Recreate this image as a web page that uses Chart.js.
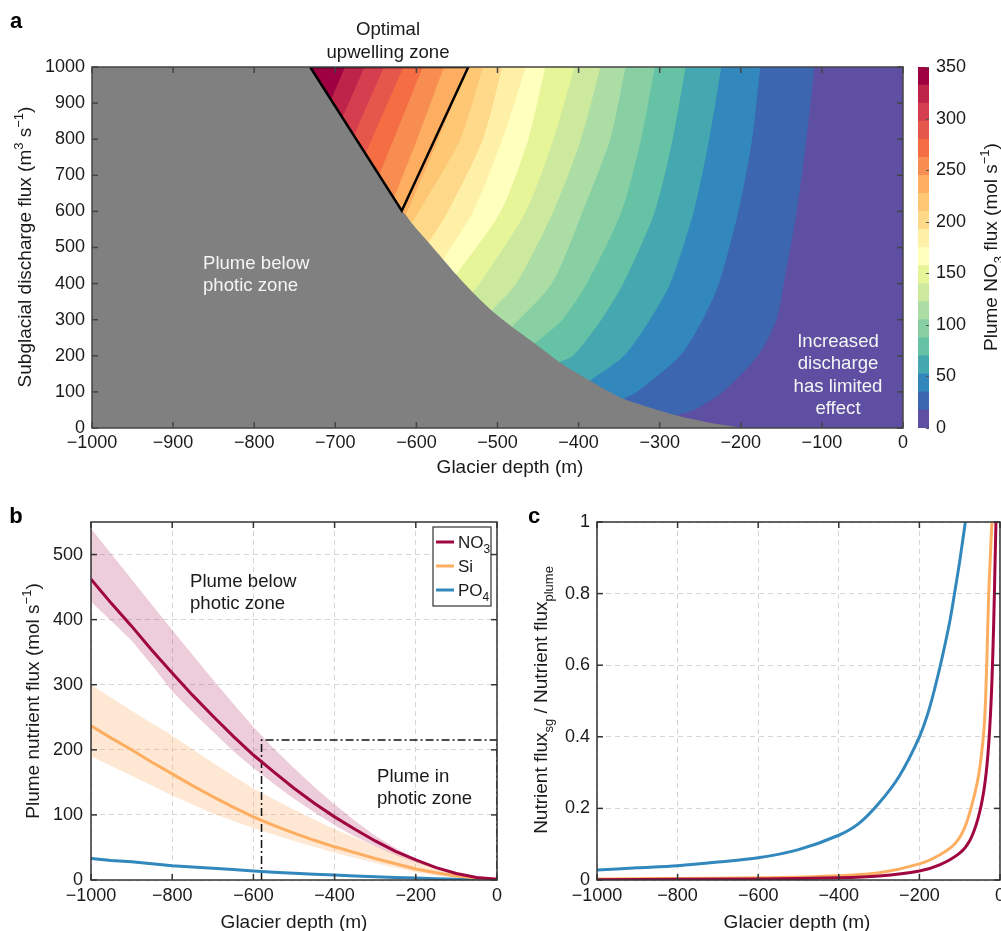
<!DOCTYPE html>
<html>
<head>
<meta charset="utf-8">
<script src="https://cdn.jsdelivr.net/npm/chart.js@4.4.0/dist/chart.umd.min.js"></script>
<style>
  html, body { margin: 0; padding: 0; background: #fff; overflow: hidden; }
  #page { position: relative; width: 1001px; height: 931px; overflow: hidden; }
  canvas { position: absolute; }
</style>
</head>
<body>
<div id="page">
  <canvas id="mapChart" width="912" height="480" style="left:0;top:0"></canvas>
  <canvas id="barChart" width="96" height="480" style="left:905px;top:0"></canvas>
  <canvas id="fluxChart" width="510" height="441" style="left:0;top:490px"></canvas>
  <canvas id="ratioChart" width="500" height="441" style="left:510px;top:490px"></canvas>
</div>
<script>
'use strict';

// ---- panel a: contour levels of plume NO3 flux (mol s-1) ----
const FLUX_LEVELS = [0, 17.5, 35, 52.5, 70, 87.5, 105, 122.5, 140, 157.5, 175,
  192.5, 210, 227.5, 245, 262.5, 280, 297.5, 315, 332.5, 350];
const BAND_COLORS = ['#5e4fa2', '#3d66b0', '#3288bd', '#45a7b0', '#66c2a5', '#88d0a4',
  '#abdda4', '#cde99e', '#e6f598', '#ffffbe', '#fff0a8', '#fed98a', '#fdc774', '#fdae61',
  '#f88d52', '#f46d43', '#e5574a', '#d53e4f', '#be2449', '#9e0142'];
const FLUX_TICKS = [0, 50, 100, 150, 200, 250, 300, 350];

// discharge rows at which contour depths were read
const DISCHARGE_ROWS = [1000, 800, 600, 400, 300, 200, 100, 50];
// depth (m) of each contour (levels 17.5 ... 332.5) at DISCHARGE_ROWS
const contourDepth = [
  [-109, -119, -131, -147, -156, -179, -222, -258],
  [-176, -186, -203, -227, -247, -275, -328, null],
  [-224, -239, -258, -287, -312, -344, null, null],
  [-268, -284, -306, -345, -372, -407, null, null],
  [-306, -323, -347, -390, -420, null, null, null],
  [-342, -361, -395, -433, null, null, null, null],
  [-373, -397, -431, -477, null, null, null, null],
  [-405, -431, -465, -522, null, null, null, null],
  [-441, -462, -496, null, null, null, null, null],
  [-465, -494, -530, null, null, null, null, null],
  [-494, -518, -561, null, null, null, null, null],
  [-518, -546, -597, null, null, null, null, null],
  [-537, -573, null, null, null, null, null, null],
  [-566, -599, null, null, null, null, null, null],
  [-592, -628, null, null, null, null, null, null],
  [-616, -655, null, null, null, null, null, null],
  [-640, null, null, null, null, null, null, null],
  [-664, null, null, null, null, null, null, null],
  [-688, null, null, null, null, null, null, null]
];
// where each contour meets the edge of the photic zone
const contourEndQ = [35, 81, 131, 183, 234, 280, 325, 377, 425, 467, 514, 568, 590, 635, 701, 760, 810, 860, 910];
const contourEndDepth = [-280, -345, -386, -424, -454, -482, -507, -531, -551, -567, -585, -606, -613, -628, -646, -663, -677, -691, -705];

// edge of the "plume below photic zone" region
const photicEdgeQ = [1000, 910, 860, 810, 760, 701, 635, 602, 590, 568, 514, 467, 425, 377, 325, 280, 234, 183, 131, 81, 35, 15, 0];
const photicEdgeDepth = [-731, -705, -691, -677, -663, -646, -628, -618, -613, -606, -585, -567, -551, -531, -507, -482, -454, -424, -386, -345, -280, -240, -198];

// optimal upwelling zone triangle
const optimalQ = [1000, 602, 1000, 1000];
const optimalDepth = [-731, -618, -536, -731];

// ---- panel b: plume nutrient flux ----
const depthB = [-1000, -950, -900, -850, -800, -750, -700, -650, -600, -550, -500,
  -450, -400, -350, -300, -250, -200, -150, -100, -50, 0];
const no3Mean = [462, 425, 390, 353, 318, 284, 252, 221, 192, 166, 141, 118, 97, 78, 60, 44, 31, 19, 10, 4, 1];
const no3Upper = [540, 501, 462, 423, 384, 346, 308, 271, 235, 202, 172, 143, 116, 91, 68, 49, 33, 20, 10, 4, 1];
const no3Lower = [428, 398, 368, 330, 290, 258, 228, 198, 172, 148, 125, 104, 84, 67, 52, 38, 27, 17, 9, 3, 1];
const siMean = [237, 218, 200, 181, 163, 145, 128, 112, 97, 84, 72, 61, 51, 42, 33, 25, 17, 11, 6, 3, 1];
const siUpper = [300, 280, 260, 241, 222, 201, 180, 160, 140, 124, 108, 93, 78, 65, 52, 40, 28, 19, 10, 5, 2];
const siLower = [190, 175, 160, 145, 130, 116, 102, 91, 80, 70, 60, 51, 42, 34, 26, 19, 12, 7, 4, 2, 1];
const po4Mean = [33, 30, 28, 25, 22, 20, 18, 16, 14, 12, 10.5, 9, 7.5, 6, 5, 4, 3, 2, 1.3, 0.8, 0.5];
const po4Upper = [35, 32, 29.5, 26.5, 23.5, 21, 19, 17, 15, 13, 11, 9.5, 8, 6.5, 5.3, 4.2, 3.2, 2.2, 1.4, 0.9, 0.5];
const po4Lower = [31, 28.5, 26.5, 23.5, 21, 19, 17, 15, 13, 11, 10, 8.5, 7, 5.6, 4.7, 3.8, 2.8, 1.8, 1.2, 0.7, 0.5];
const photicBoxDepth = [-580, -580, 0, 0];
const photicBoxFlux = [0, 215, 215, 0];

// ---- panel c: subglacial / plume nutrient flux ratio ----
const po4RatioDepth = [-1000, -900, -800, -700, -600, -500, -400, -350, -300, -250, -200, -175, -150, -125, -110, -100, -86];
const po4Ratio = [0.028, 0.034, 0.040, 0.050, 0.062, 0.085, 0.125, 0.158, 0.215, 0.29, 0.40, 0.48, 0.59, 0.72, 0.82, 0.89, 1.0];
const siRatioDepth = [-1000, -800, -600, -400, -300, -200, -150, -113, -90, -72, -55, -45, -38, -33, -28, -20];
const siRatio = [0.003, 0.004, 0.006, 0.012, 0.02, 0.045, 0.07, 0.1, 0.14, 0.2, 0.28, 0.36, 0.45, 0.6, 0.8, 1.0];
const no3RatioDepth = [-1000, -600, -400, -300, -200, -150, -100, -75, -55, -40, -30, -22, -16, -12, -10];
const no3Ratio = [0.001, 0.003, 0.006, 0.011, 0.025, 0.042, 0.075, 0.11, 0.17, 0.25, 0.35, 0.5, 0.7, 0.9, 1.0];

const FONT = "'Liberation Sans', Arial, Helvetica, sans-serif";
const INK = '#1a1a1a';
const NO3_COLOR = '#a0063f';
const SI_COLOR = '#fdae61';
const PO4_COLOR = '#3288bd';
const TITLE_SIZE = 19;
const NOTE_SIZE = 18.6;

Chart.defaults.font.family = FONT;
Chart.defaults.font.size = 18;
Chart.defaults.color = INK;
Chart.defaults.animation = false;
Chart.defaults.events = [];
Chart.defaults.plugins.legend.display = false;
Chart.defaults.plugins.tooltip.enabled = false;

const zip = (xs, ys) => xs.map((x, i) => ({ x, y: ys[i] }));
const fmt = v => {
  const n = Number(Number(v).toFixed(2));
  return n < 0 ? '\u2212' + Math.abs(n) : String(n);
};

// text with sub/superscripts, centred (or left aligned) on x,y
function drawRich(ctx, item) {
  const size = item.size || NOTE_SIZE;
  const small = Math.round(size * 0.7);
  const font = k => `${item.bold ? 'bold ' : ''}${k ? small : size}px ${FONT}`;
  let total = 0;
  const widths = item.parts.map(([t, k]) => {
    ctx.font = font(k);
    const w = ctx.measureText(t).width;
    total += w;
    return w;
  });
  ctx.save();
  ctx.translate(item.x, item.y);
  if (item.rotate) ctx.rotate(item.rotate);
  ctx.fillStyle = item.color || INK;
  ctx.textAlign = 'left';
  ctx.textBaseline = 'alphabetic';
  let cx = item.align === 'left' ? 0 : -total / 2;
  const base = size * 0.36;
  item.parts.forEach(([t, k], i) => {
    ctx.font = font(k);
    const dy = k === 'sub' ? size * 0.3 : k === 'sup' ? -size * 0.42 : 0;
    ctx.fillText(t, cx, base + dy);
    cx += widths[i];
  });
  ctx.restore();
}

const richText = {
  id: 'richText',
  afterDraw(chart, args, opts) {
    (opts.items || []).forEach(it => drawRich(chart.ctx, it));
  }
};

// MATLAB-like box with inward ticks
const frameTicks = {
  id: 'frameTicks',
  afterDatasetsDraw(chart, args, opts) {
    if (!opts.show) return;
    const { ctx, chartArea: a, scales } = chart;
    const len = opts.length || 6;
    ctx.save();
    ctx.strokeStyle = opts.color || '#333';
    ctx.lineWidth = opts.width || 1.5;
    const seg = (x1, y1, x2, y2) => { ctx.beginPath(); ctx.moveTo(x1, y1); ctx.lineTo(x2, y2); ctx.stroke(); };
    scales.x.ticks.forEach(t => {
      const px = scales.x.getPixelForValue(t.value);
      seg(px, a.bottom, px, a.bottom - len);
      seg(px, a.top, px, a.top + len);
    });
    scales.y.ticks.forEach(t => {
      const py = scales.y.getPixelForValue(t.value);
      seg(a.left, py, a.left + len, py);
      seg(a.right, py, a.right - len, py);
    });
    ctx.strokeRect(a.left, a.top, a.right - a.left, a.bottom - a.top);
    ctx.restore();
  }
};

const areaFill = {
  id: 'areaFill',
  beforeDatasetsDraw(chart, args, opts) {
    if (!opts.color) return;
    const { ctx, chartArea: a } = chart;
    ctx.save();
    ctx.fillStyle = opts.color;
    ctx.fillRect(a.left, a.top, a.right - a.left, a.bottom - a.top);
    ctx.restore();
  }
};

const fixWidth = w => scale => { scale.width = w; };
const fixHeight = h => scale => { scale.height = h; };

// ================= panel a =================
(function initMap() {
  const contourSets = contourDepth.map((row, i) => {
    const pts = [];
    row.forEach((d, j) => {
      if (d !== null && DISCHARGE_ROWS[j] > contourEndQ[i]) pts.push({ x: d, y: DISCHARGE_ROWS[j] });
    });
    pts.push({ x: contourEndDepth[i], y: contourEndQ[i] });
    return {
      data: pts,
      backgroundColor: BAND_COLORS[i + 1],
      borderColor: 'rgba(0,0,0,0)',
      borderWidth: 0,
      fill: { value: -1000 },
      pointRadius: 0,
      tension: 0.25,
      order: 100 - i
    };
  });

  new Chart(document.getElementById('mapChart'), {
    type: 'line',
    data: {
      datasets: [
        ...contourSets,
        {
          data: zip(photicEdgeDepth, photicEdgeQ),
          backgroundColor: '#808080',
          borderColor: 'rgba(0,0,0,0)',
          borderWidth: 0,
          fill: { value: -1000 },
          pointRadius: 0,
          tension: 0.2,
          order: 2
        },
        {
          data: zip(optimalDepth, optimalQ),
          borderColor: '#000',
          borderWidth: 2.5,
          fill: false,
          pointRadius: 0,
          tension: 0,
          order: 1
        }
      ]
    },
    options: {
      responsive: false,
      devicePixelRatio: 1,
      indexAxis: 'y',
      layout: { padding: { left: 0, right: 8, top: 67, bottom: 0 } },
      scales: {
        x: {
          type: 'linear', min: -1000, max: 0,
          afterFit: fixHeight(52),
          grid: { display: false, drawTicks: false },
          border: { display: false },
          ticks: { stepSize: 100, padding: 4, maxRotation: 0, autoSkip: false, callback: fmt }
        },
        y: {
          type: 'linear', min: 0, max: 1000,
          afterFit: fixWidth(92),
          grid: { display: false, drawTicks: false },
          border: { display: false },
          ticks: { stepSize: 100, padding: 7, callback: fmt }
        }
      },
      plugins: {
        areaFill: { color: BAND_COLORS[0] },
        frameTicks: { show: true, color: '#444', width: 1.5, length: 6 },
        richText: {
          items: [
            { parts: [['a']], x: 16, y: 20, size: 22, bold: true, color: '#000' },
            { parts: [['Optimal']], x: 388, y: 28 },
            { parts: [['upwelling zone']], x: 388, y: 51 },
            { parts: [['Plume below']], x: 203, y: 262, align: 'left', color: '#f4f4f4' },
            { parts: [['photic zone']], x: 203, y: 284, align: 'left', color: '#f4f4f4' },
            { parts: [['Increased']], x: 838, y: 340, color: '#f4f4f4' },
            { parts: [['discharge']], x: 838, y: 362, color: '#f4f4f4' },
            { parts: [['has limited']], x: 838, y: 385, color: '#f4f4f4' },
            { parts: [['effect']], x: 838, y: 407, color: '#f4f4f4' },
            { parts: [['Glacier depth (m)']], x: 510, y: 466, size: TITLE_SIZE },
            { parts: [['Subglacial discharge flux (m'], ['3', 'sup'], [' s'], ['\u22121', 'sup'], [')']],
              x: 24, y: 247, size: TITLE_SIZE, rotate: -Math.PI / 2 }
          ]
        }
      }
    },
    plugins: [areaFill, frameTicks, richText]
  });
})();

// ================= colour bar =================
(function initColorBar() {
  const bands = FLUX_LEVELS.slice(0, -1).map((lo, i) => ({
    data: [[lo, FLUX_LEVELS[i + 1]]],
    backgroundColor: BAND_COLORS[i],
    borderWidth: 0,
    grouped: false,
    barPercentage: 1,
    categoryPercentage: 1
  }));
  const cbTicks = {
    id: 'cbTicks',
    afterDatasetsDraw(chart) {
      const { ctx, chartArea: a, scales } = chart;
      ctx.save();
      ctx.strokeStyle = '#555';
      ctx.lineWidth = 1;
      scales.y.ticks.forEach(t => {
        const py = Math.round(scales.y.getPixelForValue(t.value)) + 0.5;
        ctx.beginPath(); ctx.moveTo(a.right, py); ctx.lineTo(a.right - 3, py); ctx.stroke();
      });
      ctx.restore();
    }
  };
  new Chart(document.getElementById('barChart'), {
    type: 'bar',
    data: { labels: [''], datasets: bands },
    options: {
      responsive: false,
      devicePixelRatio: 1,
      layout: { padding: { left: 13, right: 0, top: 67, bottom: 52 } },
      scales: {
        x: { display: false },
        y: {
          position: 'right', min: 0, max: 350,
          afterFit: fixWidth(72),
          grid: { display: false, drawTicks: false },
          border: { display: false },
          afterBuildTicks: s => { s.ticks = FLUX_TICKS.map(v => ({ value: v })); },
          ticks: { padding: 7, callback: fmt }
        }
      },
      plugins: {
        richText: {
          items: [
            { parts: [['Plume NO'], ['3', 'sub'], [' flux (mol s'], ['\u22121', 'sup'], [')']],
              x: 85, y: 247, size: TITLE_SIZE, rotate: -Math.PI / 2 }
          ]
        }
      }
    },
    plugins: [cbTicks, richText]
  });
})();

// ================= panel b =================
(function initFlux() {
  const band = (vals, color, order, fill) => ({
    data: zip(depthB, vals),
    backgroundColor: color,
    borderColor: 'rgba(0,0,0,0)',
    borderWidth: 0,
    pointRadius: 0,
    fill: fill,
    order: order
  });
  const mean = (vals, color) => ({
    data: zip(depthB, vals),
    borderColor: color,
    borderWidth: 3,
    pointRadius: 0,
    fill: false,
    order: 1
  });
  const legend = {
    id: 'nutrientLegend',
    afterDraw(chart) {
      const { ctx } = chart;
      ctx.save();
      ctx.fillStyle = '#fff';
      ctx.fillRect(433, 37, 58, 79);
      ctx.strokeStyle = '#333';
      ctx.lineWidth = 1.2;
      ctx.strokeRect(433, 37, 58, 79);
      const rows = [
        [NO3_COLOR, [['NO'], ['3', 'sub']], 52],
        [SI_COLOR, [['Si']], 76],
        [PO4_COLOR, [['PO'], ['4', 'sub']], 100]
      ];
      rows.forEach(([c, parts, y]) => {
        ctx.strokeStyle = c;
        ctx.lineWidth = 3;
        ctx.beginPath(); ctx.moveTo(436, y); ctx.lineTo(454, y); ctx.stroke();
        drawRich(ctx, { parts, x: 458, y: y, size: 17, align: 'left' });
      });
      ctx.restore();
    }
  };
  new Chart(document.getElementById('fluxChart'), {
    type: 'line',
    data: {
      datasets: [
        band(no3Upper, 'rgba(160,6,63,0.2)', 5, '+1'),
        band(no3Lower, 'rgba(0,0,0,0)', 5, false),
        band(siUpper, 'rgba(253,174,97,0.28)', 4, '+1'),
        band(siLower, 'rgba(0,0,0,0)', 4, false),
        band(po4Upper, 'rgba(50,136,189,0.3)', 3, '+1'),
        band(po4Lower, 'rgba(0,0,0,0)', 3, false),
        {
          data: zip(photicBoxDepth, photicBoxFlux),
          borderColor: '#111',
          borderWidth: 1.5,
          borderDash: [8, 3, 2, 3],
          pointRadius: 0,
          fill: false,
          order: 2
        },
        mean(no3Mean, NO3_COLOR),
        mean(siMean, SI_COLOR),
        mean(po4Mean, PO4_COLOR)
      ]
    },
    options: {
      responsive: false,
      devicePixelRatio: 1,
      layout: { padding: { left: 0, right: 13, top: 32, bottom: 0 } },
      scales: {
        x: {
          type: 'linear', min: -1000, max: 0,
          afterFit: fixHeight(51),
          grid: { color: '#d6d6d6', lineWidth: 1, drawTicks: false },
          border: { display: false, dash: [5, 4] },
          ticks: { stepSize: 200, padding: 5, maxRotation: 0, callback: fmt }
        },
        y: {
          type: 'linear', min: 0, max: 550,
          afterFit: fixWidth(91),
          grid: { color: '#d6d6d6', lineWidth: 1, drawTicks: false },
          border: { display: false, dash: [5, 4] },
          ticks: { stepSize: 100, padding: 8, includeBounds: false, callback: fmt }
        }
      },
      plugins: {
        frameTicks: { show: true, color: '#333', width: 1.5, length: 6 },
        richText: {
          items: [
            { parts: [['b']], x: 16, y: 25, size: 22, bold: true, color: '#000' },
            { parts: [['Plume below']], x: 190, y: 90, align: 'left' },
            { parts: [['photic zone']], x: 190, y: 112, align: 'left' },
            { parts: [['Plume in']], x: 377, y: 285, align: 'left' },
            { parts: [['photic zone']], x: 377, y: 307, align: 'left' },
            { parts: [['Glacier depth (m)']], x: 294, y: 431, size: TITLE_SIZE },
            { parts: [['Plume nutrient flux (mol s'], ['\u22121', 'sup'], [')']],
              x: 32, y: 211, size: TITLE_SIZE, rotate: -Math.PI / 2 }
          ]
        }
      }
    },
    plugins: [frameTicks, legend, richText]
  });
})();

// ================= panel c =================
(function initRatio() {
  const ratioLine = (xs, ys, color, order) => ({
    data: zip(xs, ys),
    borderColor: color,
    borderWidth: 3,
    pointRadius: 0,
    fill: false,
    tension: 0.3,
    order: order
  });
  new Chart(document.getElementById('ratioChart'), {
    type: 'line',
    data: {
      datasets: [
        ratioLine(no3RatioDepth, no3Ratio, NO3_COLOR, 1),
        ratioLine(siRatioDepth, siRatio, SI_COLOR, 2),
        ratioLine(po4RatioDepth, po4Ratio, PO4_COLOR, 3)
      ]
    },
    options: {
      responsive: false,
      devicePixelRatio: 1,
      layout: { padding: { left: 0, right: 7, top: 32, bottom: 0 } },
      scales: {
        x: {
          type: 'linear', min: -1000, max: 0,
          afterFit: fixHeight(51),
          grid: { color: '#d6d6d6', lineWidth: 1, drawTicks: false },
          border: { display: false, dash: [5, 4] },
          ticks: { stepSize: 200, padding: 5, maxRotation: 0, callback: fmt }
        },
        y: {
          type: 'linear', min: 0, max: 1,
          afterFit: fixWidth(87),
          grid: { color: '#d6d6d6', lineWidth: 1, drawTicks: false },
          border: { display: false, dash: [5, 4] },
          ticks: { stepSize: 0.2, padding: 7, callback: fmt }
        }
      },
      plugins: {
        frameTicks: { show: true, color: '#333', width: 1.5, length: 6 },
        richText: {
          items: [
            { parts: [['c']], x: 24, y: 25, size: 22, bold: true, color: '#000' },
            { parts: [['Glacier depth (m)']], x: 287, y: 431, size: TITLE_SIZE },
            { parts: [['Nutrient flux'], ['sg', 'sub'], [' / Nutrient flux'], ['plume', 'sub']],
              x: 30, y: 210, size: TITLE_SIZE, rotate: -Math.PI / 2 }
          ]
        }
      }
    },
    plugins: [frameTicks, richText]
  });
})();
</script>
</body>
</html>
